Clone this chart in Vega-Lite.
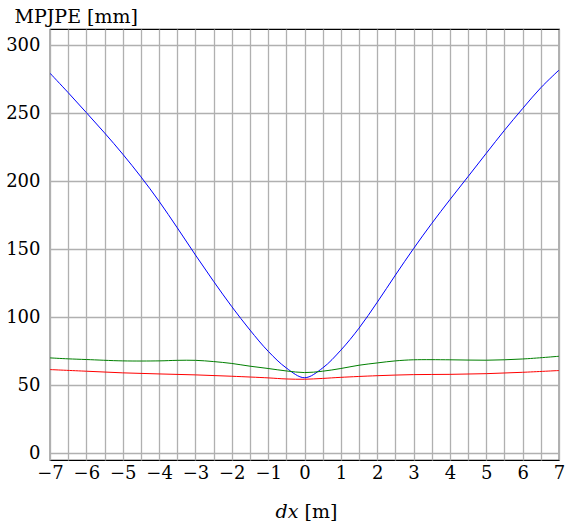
{
  "$schema": "https://vega.github.io/schema/vega-lite/v6.json",
  "width": 509,
  "height": 431,
  "autosize": "none",
  "padding": {"left": 50, "top": 29, "right": 8, "bottom": 69},
  "background": "white",
  "config": {
    "view": {"stroke": "#000000", "strokeWidth": 1.2},
    "font": "DejaVu Serif",
    "axis": {
      "labelFont": "DejaVu Serif",
      "titleFont": "DejaVu Serif",
      "labelColor": "#000000",
      "titleColor": "#000000",
      "labelFontSize": 18,
      "titleFontSize": 19,
      "titleFontWeight": "normal",
      "gridColor": "#b0b0b0",
      "gridWidth": 1.3,
      "gridOpacity": 1,
      "ticks": false,
      "domain": false
    }
  },
  "data": {
    "values": [
      {"x": -7, "y": 279.5, "s": "blue"},
      {"x": -6.5, "y": 265.2, "s": "blue"},
      {"x": -6, "y": 250.5, "s": "blue"},
      {"x": -5.5, "y": 235.6, "s": "blue"},
      {"x": -5, "y": 220.0, "s": "blue"},
      {"x": -4.5, "y": 203.3, "s": "blue"},
      {"x": -4, "y": 185.3, "s": "blue"},
      {"x": -3.5, "y": 165.8, "s": "blue"},
      {"x": -3, "y": 145.8, "s": "blue"},
      {"x": -2.5, "y": 126.4, "s": "blue"},
      {"x": -2, "y": 107.8, "s": "blue"},
      {"x": -1.5, "y": 90.6, "s": "blue"},
      {"x": -1, "y": 75.0, "s": "blue"},
      {"x": -0.5, "y": 62.7, "s": "blue"},
      {"x": 0, "y": 55.5, "s": "blue"},
      {"x": 0.5, "y": 62.7, "s": "blue"},
      {"x": 1, "y": 75.8, "s": "blue"},
      {"x": 1.5, "y": 92.0, "s": "blue"},
      {"x": 2, "y": 111.0, "s": "blue"},
      {"x": 2.5, "y": 131.0, "s": "blue"},
      {"x": 3, "y": 150.5, "s": "blue"},
      {"x": 3.5, "y": 169.0, "s": "blue"},
      {"x": 4, "y": 186.5, "s": "blue"},
      {"x": 4.5, "y": 203.5, "s": "blue"},
      {"x": 5, "y": 220.6, "s": "blue"},
      {"x": 5.5, "y": 237.5, "s": "blue"},
      {"x": 6, "y": 253.5, "s": "blue"},
      {"x": 6.5, "y": 268.8, "s": "blue"},
      {"x": 7, "y": 281.8, "s": "blue"},
      {"x": -7, "y": 70.1, "s": "green"},
      {"x": -6.5, "y": 69.4, "s": "green"},
      {"x": -6, "y": 68.9, "s": "green"},
      {"x": -5, "y": 67.9, "s": "green"},
      {"x": -4, "y": 67.9, "s": "green"},
      {"x": -3.5, "y": 68.3, "s": "green"},
      {"x": -3, "y": 68.3, "s": "green"},
      {"x": -2.5, "y": 67.4, "s": "green"},
      {"x": -2, "y": 66.0, "s": "green"},
      {"x": -1.5, "y": 64.0, "s": "green"},
      {"x": -1, "y": 62.3, "s": "green"},
      {"x": -0.5, "y": 60.5, "s": "green"},
      {"x": 0, "y": 59.3, "s": "green"},
      {"x": 0.5, "y": 60.3, "s": "green"},
      {"x": 1, "y": 62.3, "s": "green"},
      {"x": 1.5, "y": 64.7, "s": "green"},
      {"x": 2, "y": 66.4, "s": "green"},
      {"x": 2.5, "y": 67.9, "s": "green"},
      {"x": 3, "y": 68.7, "s": "green"},
      {"x": 4, "y": 68.7, "s": "green"},
      {"x": 5, "y": 68.4, "s": "green"},
      {"x": 6, "y": 69.3, "s": "green"},
      {"x": 7, "y": 71.3, "s": "green"},
      {"x": -7, "y": 61.5, "s": "red"},
      {"x": -6, "y": 60.3, "s": "red"},
      {"x": -5, "y": 59.1, "s": "red"},
      {"x": -4, "y": 58.3, "s": "red"},
      {"x": -3, "y": 57.6, "s": "red"},
      {"x": -2, "y": 56.6, "s": "red"},
      {"x": -1, "y": 55.4, "s": "red"},
      {"x": -0.5, "y": 54.6, "s": "red"},
      {"x": 0, "y": 54.4, "s": "red"},
      {"x": 0.5, "y": 55.0, "s": "red"},
      {"x": 1, "y": 55.8, "s": "red"},
      {"x": 2, "y": 57.0, "s": "red"},
      {"x": 3, "y": 57.8, "s": "red"},
      {"x": 4, "y": 58.0, "s": "red"},
      {"x": 5, "y": 58.5, "s": "red"},
      {"x": 6, "y": 59.5, "s": "red"},
      {"x": 7, "y": 60.8, "s": "red"}
    ]
  },
  "layer": [
    {
      "transform": [{"filter": "datum.s === 'blue'"}],
      "mark": {"type": "line", "interpolate": "catmull-rom", "strokeWidth": 1, "clip": true},
      "encoding": {
        "x": {
          "field": "x",
          "type": "quantitative",
          "scale": {"domain": [-7, 7], "nice": false, "zero": false},
          "axis": {
            "orient": "bottom",
            "values": [-7, -6.5, -6, -5.5, -5, -4.5, -4, -3.5, -3, -2.5, -2, -1.5, -1, -0.5, 0, 0.5, 1, 1.5, 2, 2.5, 3, 3.5, 4, 4.5, 5, 5.5, 6, 6.5, 7],
            "labelExpr": "datum.value % 1 === 0 ? format(datum.value, 'd') : ''",
            "labelFont": "DejaVu Serif",
            "titleFont": "DejaVu Serif",
            "labelFlush": false,
            "labelOverlap": false,
            "labelPadding": 4,
            "grid": true,
            "title": "[m]",
            "titleX": 254,
            "titleY": 57,
            "titleAlign": "left",
            "titleBaseline": "alphabetic"
          }
        },
        "y": {
          "field": "y",
          "type": "quantitative",
          "scale": {"domain": [-5, 312], "nice": false, "zero": false},
          "axis": {
            "values": [0, 25, 50, 75, 100, 125, 150, 175, 200, 225, 250, 275, 300],
            "labelExpr": "datum.value % 50 === 0 ? format(datum.value, 'd') : ''",
            "labelFont": "DejaVu Serif",
            "titleFont": "DejaVu Serif",
            "labelPadding": 10,
            "labelOverlap": false,
            "labelFlush": false,
            "grid": true,
            "title": "MPJPE [mm]",
            "titleAngle": 0,
            "titleAlign": "left",
            "titleBaseline": "alphabetic",
            "titleX": -36,
            "titleY": -7
          }
        },
        "color": {
          "field": "s",
          "type": "nominal",
          "scale": {"domain": ["blue", "green", "red"], "range": ["#0000ff", "#007f00", "#ff0000"]},
          "legend": null
        }
      }
    },
    {
      "transform": [{"filter": "datum.s !== 'blue'"}],
      "mark": {"type": "line", "interpolate": "catmull-rom", "strokeWidth": 1, "clip": true},
      "encoding": {
        "x": {
          "field": "x",
          "type": "quantitative",
          "scale": {"domain": [-7, 7], "nice": false, "zero": false},
          "axis": {
            "orient": "bottom",
            "labels": false,
            "grid": false,
            "ticks": false,
            "domain": false,
            "title": "dx",
            "titleFont": "DejaVu Serif",
            "titleFontStyle": "italic",
            "titleX": 248,
            "titleY": 57,
            "titleAlign": "right",
            "titleBaseline": "alphabetic"
          }
        },
        "y": {"field": "y", "type": "quantitative"},
        "color": {
          "field": "s",
          "type": "nominal",
          "scale": {"domain": ["blue", "green", "red"], "range": ["#0000ff", "#007f00", "#ff0000"]},
          "legend": null
        }
      }
    }
  ],
  "resolve": {"axis": {"x": "independent"}}
}
